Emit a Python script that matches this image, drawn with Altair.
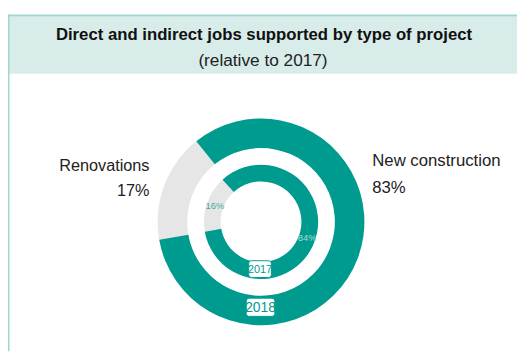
import math
import altair as alt
import pandas as pd

# ---- data ----
types = ["Renovations", "New construction"]
share_2018 = [17, 83]
share_2017 = [16, 84]
years = ["2017", "2018"]
title_text = "Direct and indirect jobs supported by type of project"
subtitle_text = "(relative to 2017)"

TEAL = "#009b8f"
GRAY = "#e6e6e6"
BAND = "#d8ece9"
BORDER = "#a0d5d1"
FONT = "Liberation Sans Narrow, Liberation Sans, Arial, sans-serif"

df18 = pd.DataFrame({"type": types, "value": share_2018, "ord": [0, 1]})
df17 = pd.DataFrame({"type": types, "value": share_2017, "ord": [0, 1]})
one = pd.DataFrame({"k": [0]})

W, H = 517, 346
CX, CY = 257, 214.5
start = math.radians(260)
theta_scale = alt.Scale(domain=[0, 100], range=[start, start + 2 * math.pi])
color_scale = alt.Scale(domain=types, range=[GRAY, TEAL])


def ring(df, r, r2):
    return alt.Chart(df).mark_arc(radius=r, radius2=r2).encode(
        theta=alt.Theta("value:Q", stack=True, scale=theta_scale),
        color=alt.Color("type:N", scale=color_scale, legend=None),
        order=alt.Order("ord:Q"),
        x=alt.value(CX), y=alt.value(CY),
    )


outer = ring(df18, 105, 75)
inner = ring(df17, 58, 41)

inner_text = alt.Chart(df17).transform_calculate(
    lbl="datum.value + '%'"
).mark_text(radius=49.5, font=FONT, fontSize=9.5, baseline="middle").encode(
    theta=alt.Theta("value:Q", stack=True, scale=theta_scale),
    order=alt.Order("ord:Q"),
    text="lbl:N",
    color=alt.condition("datum.type === 'Renovations'", alt.value("#3fa79f"), alt.value("#a6dbd6")),
    x=alt.value(CX), y=alt.value(CY),
)

band = alt.Chart(one).mark_rect(color=BAND).encode(
    x=alt.value(0), x2=alt.value(W), y=alt.value(6), y2=alt.value(64))
top_border = alt.Chart(one).mark_rect(color=BORDER).encode(
    x=alt.value(0), x2=alt.value(W), y=alt.value(4), y2=alt.value(6))
left_border = alt.Chart(one).mark_rect(color=BORDER).encode(
    x=alt.value(0), x2=alt.value(1.5), y=alt.value(4), y2=alt.value(H))

title = alt.Chart(pd.DataFrame({"t": [title_text]})).mark_text(
    font=FONT, fontSize=17, fontWeight="bold", color="#111111", align="center", baseline="alphabetic"
).encode(text="t:N", x=alt.value(260), y=alt.value(30))
subtitle = alt.Chart(pd.DataFrame({"t": [subtitle_text]})).mark_text(
    font=FONT, fontSize=17.5, color="#222222", align="center", baseline="alphabetic"
).encode(text="t:N", x=alt.value(259), y=alt.value(56))

ren_label = alt.Chart(df18).transform_filter("datum.type === 'Renovations'").transform_calculate(
    lbl="datum.type + '\\n' + datum.value + '%'"
).mark_text(font=FONT, fontSize=16.5, lineBreak="\n", lineHeight=25, align="right",
            baseline="alphabetic", color="#222222").encode(
    text="lbl:N", x=alt.value(143.7), y=alt.value(163))
new_label = alt.Chart(df18).transform_filter("datum.type === 'New construction'").transform_calculate(
    lbl="datum.type + '\\n' + datum.value + '%'"
).mark_text(font=FONT, fontSize=17, lineBreak="\n", lineHeight=27, align="left",
            baseline="alphabetic", color="#222222").encode(
    text="lbl:N", x=alt.value(370), y=alt.value(158))

box17 = alt.Chart(one).mark_rect(fill="white", stroke=TEAL, strokeWidth=1, cornerRadius=3).encode(
    x=alt.value(244.5), x2=alt.value(267.5), y=alt.value(254), y2=alt.value(271))
box18 = alt.Chart(one).mark_rect(fill="white", stroke=TEAL, strokeWidth=1, cornerRadius=3).encode(
    x=alt.value(242), x2=alt.value(271), y=alt.value(292), y2=alt.value(310.5))
yr17 = alt.Chart(pd.DataFrame({"y": [years[0]]})).mark_text(
    font=FONT, fontSize=11, color=TEAL, baseline="middle").encode(
    text="y:N", x=alt.value(256), y=alt.value(263))
yr18 = alt.Chart(pd.DataFrame({"y": [years[1]]})).mark_text(
    font=FONT, fontSize=14, color=TEAL, baseline="middle").encode(
    text="y:N", x=alt.value(256.5), y=alt.value(301.8))

chart = alt.layer(
    band, top_border, left_border, title, subtitle,
    outer, inner, inner_text, ren_label, new_label,
    box17, box18, yr17, yr18,
).properties(
    width=W, height=H, padding=0, autosize=alt.AutoSizeParams(type="none")
).configure_view(stroke=None)

chart.save("out.html", embed_options={"renderer": "svg", "actions": False})
